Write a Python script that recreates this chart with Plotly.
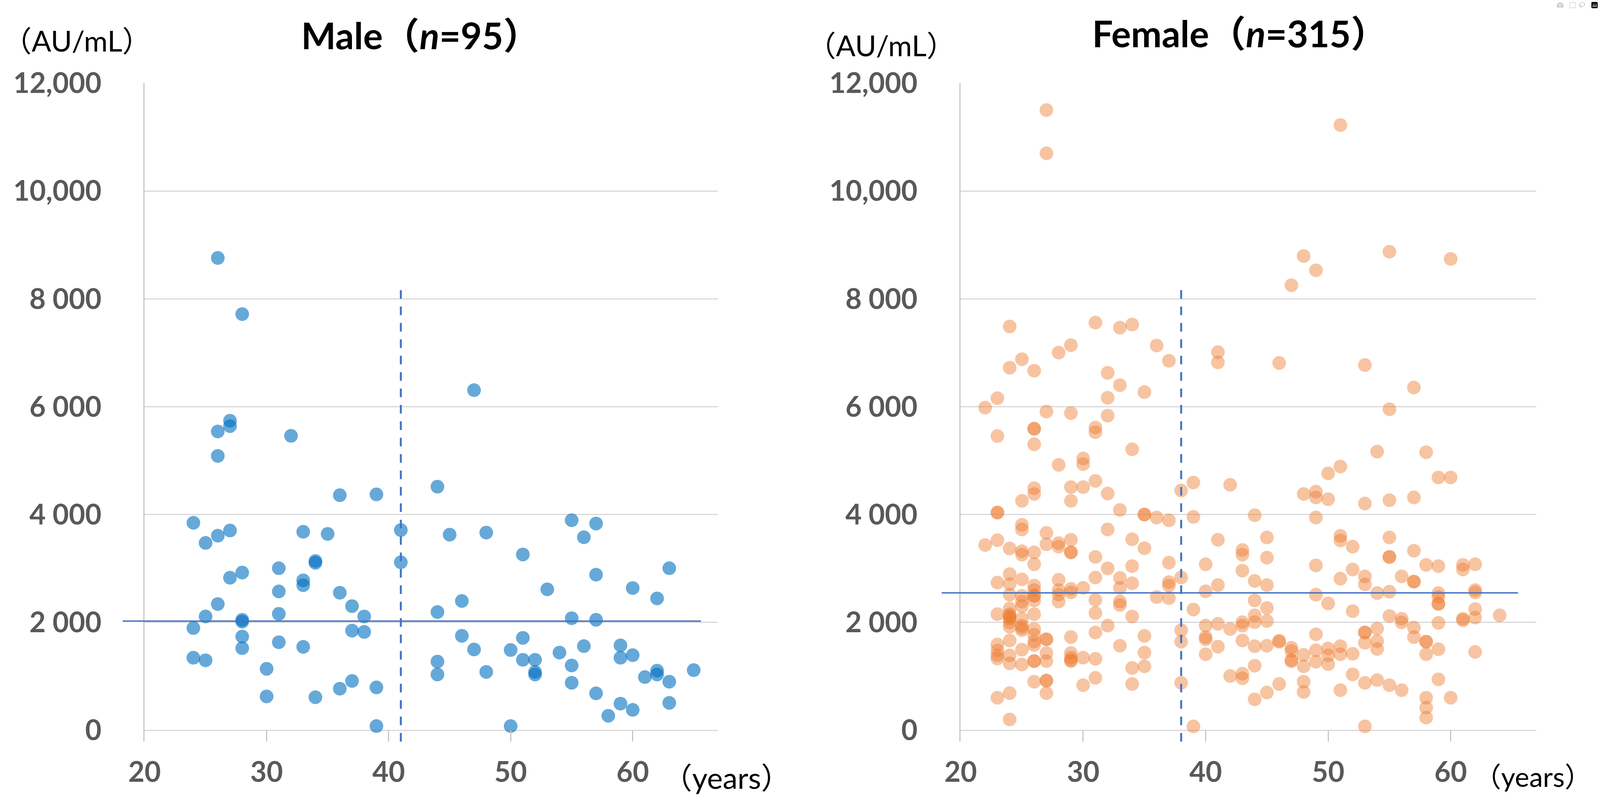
import plotly.graph_objects as go

# The page is photographed in a viewport that is 4096 CSS px wide, so the figure is
# built at that width; horizontal positions below are given in reference-image pixels (4327 wide).
REF_W, H = 4327, 2064
FIG_W = 4096

# ---------------- data ----------------
male_age = [27, 27, 26, 32, 26, 44, 36, 39, 24, 55, 57, 27, 26, 25, 33, 35, 41, 45, 48, 56,
            51, 34, 34, 41, 31, 63, 28, 27, 57, 33, 33, 53, 60, 31, 36, 62, 46, 26, 37, 44,
            31, 38, 25, 55, 57, 28, 28, 24, 37, 38, 46, 28, 51, 31, 28, 33, 56, 59, 47, 50,
            54, 60, 24, 59, 25, 51, 52, 44, 55, 30, 52, 52, 62, 62, 65, 48, 44, 61, 63, 37,
            55, 36, 39, 57, 30, 34, 63, 59, 60, 58, 39, 50, 26, 28, 47]
male_value = [5740, 5640, 5541, 5460, 5087, 4517, 4359, 4374, 3847, 3895, 3833, 3704, 3608, 3474,
              3680, 3641, 3713, 3627, 3665, 3579, 3259, 3139, 3105, 3115, 3005, 3005, 2924, 2828,
              2885, 2780, 2690, 2613, 2637, 2574, 2550, 2445, 2397, 2340, 2302, 2192, 2158, 2110,
              2110, 2077, 2048, 2048, 2014, 1895, 1847, 1823, 1751, 1737, 1713, 1632, 1522, 1546,
              1560, 1574, 1498, 1488, 1440, 1392, 1345, 1345, 1297, 1306, 1306, 1273, 1201, 1139,
              1081, 1034, 1105, 1034, 1115, 1081, 1034, 986, 900, 914, 880, 770, 794, 684, 627,
              612, 507, 493, 378, 268, 77, 77, 8759, 7717, 6307]

female_age = (
    [22] * 2 + [23] * 12 + [24] * 18 + [25] * 16 + [26] * 21 + [27] * 12 + [28] * 8 +
    [29] * 14 + [30] * 6 + [31] * 11 + [32] * 7 + [33] * 8 + [34] * 8 + [35] * 7 +
    [36] * 3 + [37] * 6 + [38] * 5 + [39] * 4 + [40] * 6 + [41] * 6 + [42] * 3 +
    [43] * 8 + [44] * 8 + [45] * 7 + [46] * 4 + [47] * 5 + [48] * 6 + [49] * 9 +
    [50] * 6 + [51] * 8 + [52] * 5 + [53] * 9 + [54] * 6 + [55] * 9 + [56] * 4 +
    [57] * 7 + [58] * 8 + [59] * 9 + [60] * 3 + [61] * 4 + [62] * 6 + [64] * 1
)
female_value = [
    5983, 3435,
    6157, 5456, 4034, 4040, 3524, 2739, 2153, 1590, 1480, 1390, 1330, 603,
    7487, 6723, 3371, 2896, 2713, 2514, 2259, 2153, 2120, 2100, 2068, 2000, 1919, 1664, 1388, 1240, 688, 200,
    6880, 4254, 3809, 3724, 3320, 3257, 2798, 2492, 2386, 2301, 2068, 1940, 1900, 1855, 1495, 1219,
    6667, 5592, 5592, 5303, 4488, 4382, 3299, 3078, 2683, 2599, 2500, 2492, 2407, 2153, 1877, 1770, 1643, 1580, 1282, 1282, 900,
    11502, 10700, 5910, 3660, 3448, 1686, 1686, 1431, 1282, 921, 921, 688,
    7003, 4921, 3469, 3405, 2790, 2599, 2514, 2386,
    7141, 5881, 4509, 4254, 3533, 3299, 3299, 2620, 2556, 1728, 1431, 1346, 1300, 1282,
    5040, 4934, 4509, 2641, 1346, 836,
    7560, 5613, 5528, 4624, 3214, 2832, 2416, 2174, 1813, 1325, 972,
    6628, 6165, 5834, 4390, 3724, 3002, 1940,
    7466, 6399, 4085, 2824, 2641, 2386, 2323, 1567,
    7523, 5210, 3541, 3044, 2726, 2110, 1155, 858,
    6271, 4000, 4000, 3376, 1749, 1439, 1185,
    7134, 3945, 2471,
    6852, 3894, 3108, 2747, 2683, 2450,
    4446, 2832, 1855, 1643, 879,
    4594, 3957, 2238, 72,
    3078, 2577, 1940, 1728, 1686, 1410,
    7011, 6823, 3533, 2692, 1974, 1550,
    4552, 1877, 1006,
    3342, 3257, 2959, 2004, 1940, 1664, 1049, 964,
    3987, 2768, 2407, 2131, 2004, 1558, 1197, 573,
    3575, 3201, 2692, 2267, 2025, 1567, 700,
    6811, 1660, 1640, 858,
    8253, 1530, 1470, 1300, 1280,
    8794, 4382, 1397, 1185, 900, 709,
    8530, 4424, 4318, 3945, 3057, 2514, 1779, 1482, 1270,
    4764, 4284, 2352, 1516, 1388, 1227,
    11224, 4891, 3605, 3520, 2811, 1558, 1410, 743,
    3405, 2981, 2208, 1418, 1036,
    6773, 4204, 2853, 2705, 1813, 1813, 1622, 879, 72,
    5167, 2543, 1885, 1652, 1507, 930,
    8874, 5953, 4267, 3575, 3214, 3214, 2569, 2119, 836,
    2853, 2068, 2000, 743,
    6356, 4318, 3329, 2756, 2756, 1906, 1728,
    5155, 3066, 1643, 1643, 1410, 603, 420, 234,
    4688, 3044, 2543, 2471, 2344, 2344, 1991, 1503, 943,
    8740, 4688, 603,
    3066, 2981, 2068, 2040,
    3078, 2599, 2556, 2246, 2089, 1452,
    2131,
]

# reference lines (horizontal level and vertical dashed cut-off)
male_ref_level = 2025
male_ref_span = [18.2, 65.6]
male_cut_age = 41.0
male_cut_top = 8230
female_ref_level = 2547
female_ref_span = [18.45, 65.5]
female_cut_age = 38.0
female_cut_top = 8220

y_tick_vals = [0, 2000, 4000, 6000, 8000, 10000, 12000]
y_tick_text = ["0", "2 000", "4 000", "6 000", "8 000", "10,000", "12,000"]
x_tick_vals = [20, 30, 40, 50, 60]
x_tick_text = ["20", "30", "40", "50", "60"]

male_title = "Male（<i>n</i>=95）"
female_title = "Female（<i>n</i>=315）"
unit_text = "（AU/mL）"
age_text = "（years）"

# ---------------- layout geometry (reference pixels) ----------------
X_RANGE = [20, 67]
Y_RANGE = [-210, 12000]
PLOT_TOP, PLOT_BOTTOM = 213, 1899
MALE_X = (391, 1942)
FEMALE_X = (2598, 4155)
SX = FIG_W / REF_W

FONT = "Lato, 'Noto Sans CJK JP', sans-serif"
TICK_GREY = "#595959"
GRID = "#D9D9D9"
AXIS_LINE = "#C6C6C6"
LINE_BLUE = "#4472C4"

def px_x(p):
    return p / REF_W

def px_y(p):
    return 1 - p / H

def data_to_paper(x, dom):
    return dom[0] + (x - X_RANGE[0]) / (X_RANGE[1] - X_RANGE[0]) * (dom[1] - dom[0])

male_dom = [px_x(MALE_X[0]), px_x(MALE_X[1])]
female_dom = [px_x(FEMALE_X[0]), px_x(FEMALE_X[1])]
y_dom = [px_y(PLOT_BOTTOM), px_y(PLOT_TOP)]

fig = go.Figure()

fig.add_trace(go.Scatter(
    x=male_age, y=male_value, mode="markers", xaxis="x", yaxis="y",
    marker=dict(size=35, color="#0070C0", opacity=0.6, line=dict(width=0)),
    showlegend=False, hoverinfo="skip",
))
fig.add_trace(go.Scatter(
    x=female_age, y=female_value, mode="markers", xaxis="x2", yaxis="y2",
    marker=dict(size=35, color="#ED7D31", opacity=0.45, line=dict(width=0)),
    showlegend=False, hoverinfo="skip",
))

def xaxis_cfg(dom, anchor):
    return dict(
        domain=dom, range=X_RANGE, anchor=anchor,
        showgrid=False, zeroline=False, showline=False,
        tickmode="array", tickvals=x_tick_vals, ticktext=x_tick_text,
        ticks="inside", ticklen=29, tickwidth=3, tickcolor=AXIS_LINE,
        tickfont=dict(family=FONT, size=72, color=TICK_GREY, weight="bold"),
        ticklabelstandoff=30, fixedrange=True, automargin=False,
    )

def yaxis_cfg(anchor):
    return dict(
        domain=y_dom, range=Y_RANGE, anchor=anchor,
        showgrid=True, gridcolor=GRID, gridwidth=3, zeroline=False,
        showline=True, linecolor=AXIS_LINE, linewidth=3,
        tickmode="array", tickvals=y_tick_vals, ticktext=y_tick_text, ticks="",
        tickfont=dict(family=FONT, size=72, color=TICK_GREY, weight="bold"),
        ticklabelstandoff=round(98 * SX), fixedrange=True, automargin=False,
    )

shapes = []
for dom, xr, yr, lvl, span, cut, top in [
    (male_dom, "x", "y", male_ref_level, male_ref_span, male_cut_age, male_cut_top),
    (female_dom, "x2", "y2", female_ref_level, female_ref_span, female_cut_age, female_cut_top),
]:
    shapes.append(dict(
        type="line", xref="paper", yref=yr,
        x0=data_to_paper(span[0], dom), x1=data_to_paper(span[1], dom), y0=lvl, y1=lvl,
        line=dict(color=LINE_BLUE, width=3.5), layer="above",
    ))
    shapes.append(dict(
        type="line", xref=xr, yref=yr, x0=cut, x1=cut, y0=Y_RANGE[0], y1=top,
        line=dict(color=LINE_BLUE, width=5, dash="22px,20px"), layer="above",
    ))

annotations = []
def add_text(text, cx, cy, size, bold, anchor="center"):
    annotations.append(dict(
        text=text, xref="paper", yref="paper", x=px_x(cx), y=px_y(cy),
        xanchor=anchor, yanchor="middle", showarrow=False, borderpad=0,
        font=dict(family=FONT, size=size, color="black", weight="bold" if bold else "normal"),
    ))

add_text(male_title, 1137, 90, 94, True)
add_text(female_title, 3353, 85, 94, True)
add_text(unit_text, 6, 104, 74, False, anchor="left")
add_text(unit_text, 2383, 116, 74, False)
add_text(age_text, 1965, 1990, 76, False)
add_text(age_text, 4306, 1988, 70, False, anchor="right")

fig.update_layout(
    width=FIG_W, height=H, margin=dict(l=0, r=0, t=0, b=0, pad=0),
    paper_bgcolor="white", plot_bgcolor="white",
    xaxis=xaxis_cfg(male_dom, "y"), yaxis=yaxis_cfg("x"),
    xaxis2=xaxis_cfg(female_dom, "y2"), yaxis2=yaxis_cfg("x2"),
    shapes=shapes, annotations=annotations, showlegend=False,
)

fig.write_html("out.html", post_script="document.body.style.margin='0px';")
